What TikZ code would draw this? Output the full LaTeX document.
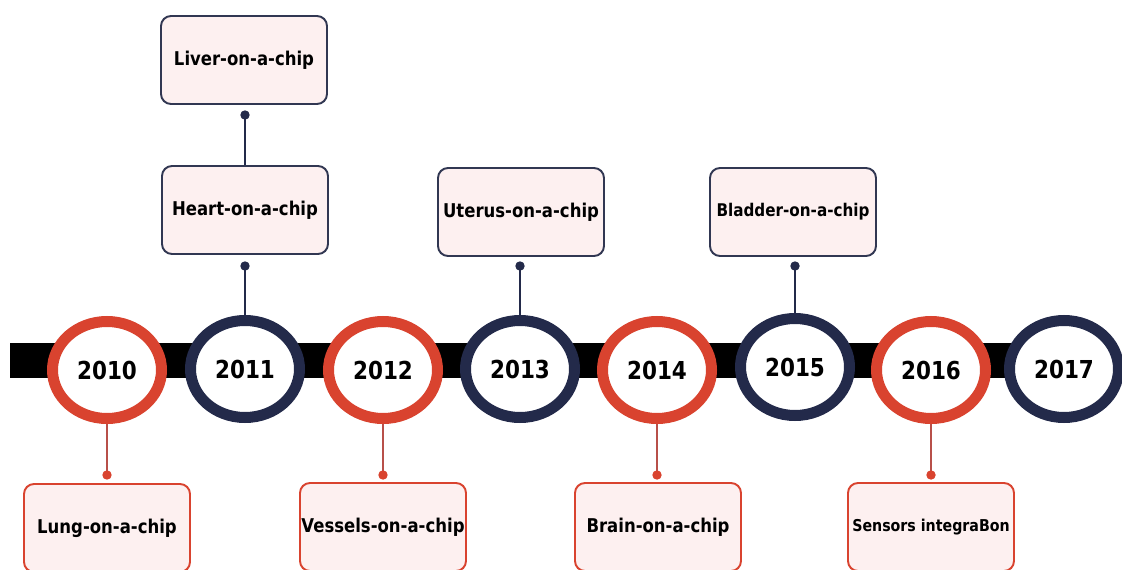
\documentclass[tikz,border=0pt]{standalone}
\usepackage{fontspec}
\setmainfont{DejaVu Sans}
\usetikzlibrary{shapes.geometric}
\definecolor{tred}{HTML}{D9432F}
\definecolor{tnavy}{HTML}{232A4A}
\definecolor{boxfill}{HTML}{FDF0F0}
\definecolor{linkred}{HTML}{B8504A}
\newcommand{\tallt}[1]{\scalebox{1}[1.15]{#1}}
\tikzset{
  yearring/.style={ellipse, line width=11pt, fill=white, minimum width=109pt, minimum height=97pt, inner sep=0pt, font=\bfseries\fontsize{21.5}{22}\selectfont, text=black},
  redring/.style={yearring, draw=tred},
  navyring/.style={yearring, draw=tnavy},
  labelbox/.style={rectangle, rounded corners=10pt, line width=1.9pt, fill=boxfill, minimum width=166pt, minimum height=88pt, inner sep=0pt, font=\bfseries\fontsize{16.5}{17}\selectfont, text=black},
  smalltext/.style={font=\bfseries\fontsize{15.2}{16}\selectfont},
  tinytext/.style={font=\bfseries\fontsize{14.2}{15}\selectfont},
  topbox/.style={labelbox, draw=tnavy!85!gray},
  botbox/.style={labelbox, draw=tred},
  toplink/.style={draw=tnavy, line width=1.5pt},
  botlink/.style={draw=linkred, line width=1.5pt},
  topdot/.style={fill=tnavy},
  botdot/.style={fill=tred}
}
\begin{document}
\begin{tikzpicture}[x=1pt,y=-1pt]
\useasboundingbox (0,0) rectangle (1122,570);
\clip (0,0) rectangle (1122,570);
\fill[white] (0,0) rectangle (1122,570);
% band
\fill[black] (10,343) rectangle (1080,378);
% year rings
\node[redring]  (y10) at (107,370) {\tallt{2010}};
\node[navyring] (y11) at (245,369) {\tallt{2011}};
\node[redring]  (y12) at (383,370) {\tallt{2012}};
\node[navyring] (y13) at (520,369) {\tallt{2013}};
\node[redring]  (y14) at (657,370) {\tallt{2014}};
\node[navyring] (y15) at (795,367) {\tallt{2015}};
\node[redring]  (y16) at (931,370) {\tallt{2016}};
\node[navyring] (y17) at (1064,369) {\tallt{2017}};
% top boxes
\node[topbox] (liver)   at (244,60)  {\tallt{Liver-on-a-chip}};
\node[topbox] (heart)   at (245,210) {\tallt{Heart-on-a-chip}};
\node[topbox] (uterus)  at (521,212) {\tallt{Uterus-on-a-chip}};
\node[topbox, smalltext] (bladder) at (793,212) {\tallt{Bladder-on-a-chip}};
% bottom boxes
\node[botbox] (lung)    at (107,528) {\tallt{Lung-on-a-chip}};
\node[botbox] (vessels) at (383,527) {\tallt{Vessels-on-a-chip}};
\node[botbox] (brain)   at (658,527) {\tallt{Brain-on-a-chip}};
\node[botbox, tinytext] (sensors) at (931,527) {\tallt{Sensors integraBon}};
% dots
\coordinate (dliver)   at (245,115);
\coordinate (dheart)   at (245,266);
\coordinate (duterus)  at (520,266);
\coordinate (dbladder) at (795,266);
\coordinate (dlung)    at (107,475);
\coordinate (dvessels) at (383,475);
\coordinate (dbrain)   at (657,475);
\coordinate (dsensors) at (931,475);
% top links
\draw[toplink] (dliver) -- (dliver |- heart.north);
\draw[toplink] (dheart) -- (y11.north);
\draw[toplink] (duterus) -- (y13.north);
\draw[toplink] (dbladder) -- (y15.north);
\foreach \d in {dliver,dheart,duterus,dbladder} \fill[topdot] (\d) circle (4.7pt);
% bottom links
\draw[botlink] (y10.south) -- (dlung);
\draw[botlink] (y12.south) -- (dvessels);
\draw[botlink] (y14.south) -- (dbrain);
\draw[botlink] (y16.south) -- (dsensors);
\foreach \d in {dlung,dvessels,dbrain,dsensors} \fill[botdot] (\d) circle (4.7pt);
\end{tikzpicture}
\end{document}
